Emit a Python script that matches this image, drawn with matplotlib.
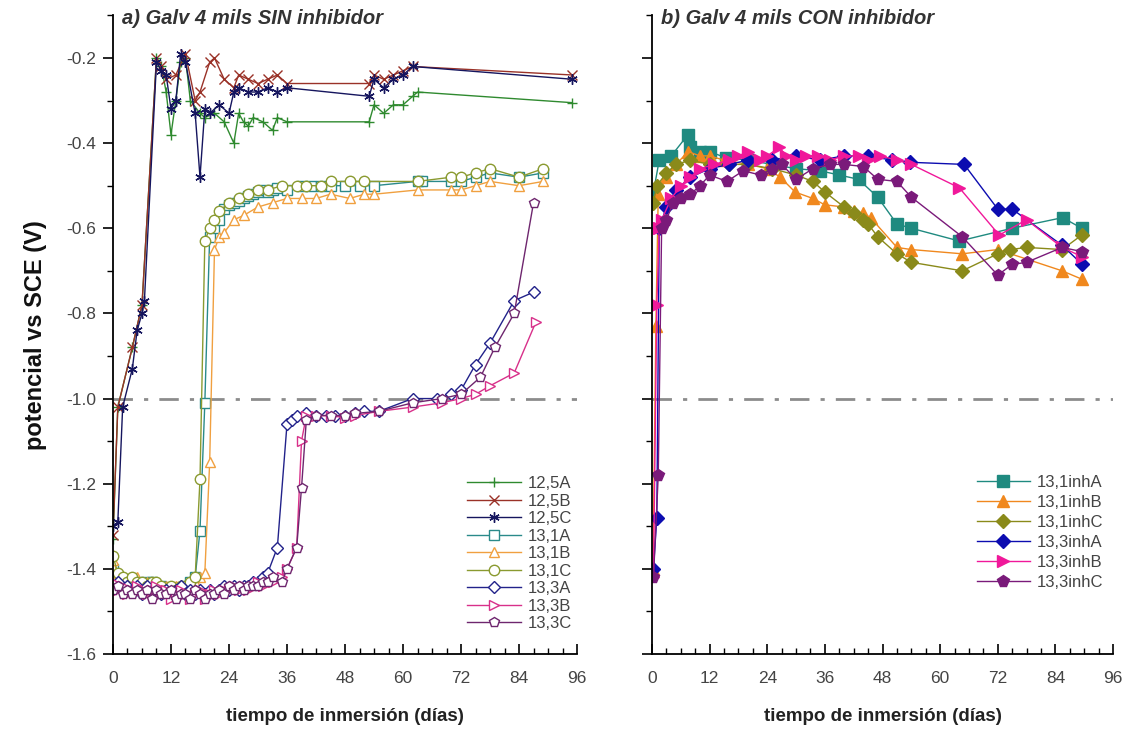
import numpy as np
import matplotlib
matplotlib.use('Agg')
import matplotlib.pyplot as plt
from matplotlib.ticker import MultipleLocator

plt.rcParams['font.family'] = ['Liberation Sans', 'DejaVu Sans']

# ---- panel a) sin inhibidor ----
d_125A = [0, 1, 4, 6, 9, 10, 11, 12, 13, 14, 15, 16, 18, 19, 21, 23, 25, 26, 27, 28, 29, 31, 33, 34, 36,
          53, 54, 56, 58, 60, 62, 63, 95]
v_125A = [-1.33, -1.02, -0.88, -0.78, -0.20, -0.22, -0.28, -0.38, -0.30, -0.21, -0.20, -0.30, -0.33, -0.34,
          -0.33, -0.35, -0.40, -0.33, -0.35, -0.36, -0.34, -0.35, -0.37, -0.34, -0.35,
          -0.35, -0.31, -0.33, -0.31, -0.31, -0.29, -0.28, -0.305]

d_125B = [0, 1, 4, 6, 9, 10, 11, 13, 15, 17, 18, 20, 21, 23, 25, 26, 28, 30, 32, 34, 36,
          53, 54, 56, 58, 60, 62, 95]
v_125B = [-1.32, -1.02, -0.88, -0.78, -0.20, -0.22, -0.25, -0.24, -0.19, -0.30, -0.28, -0.21, -0.20,
          -0.25, -0.27, -0.24, -0.25, -0.26, -0.25, -0.24, -0.26,
          -0.26, -0.24, -0.25, -0.24, -0.23, -0.22, -0.24]

d_125C = [0, 1, 2, 4, 5, 6, 6.5, 9, 10, 11, 12, 13, 14, 15, 17, 18, 19, 20, 22, 24, 25, 26, 28, 30, 32, 34, 36,
          53, 54, 56, 58, 60, 62, 95]
v_125C = [-1.30, -1.29, -1.02, -0.93, -0.84, -0.80, -0.77, -0.21, -0.23, -0.24, -0.32, -0.30, -0.19, -0.21,
          -0.33, -0.48, -0.32, -0.33, -0.31, -0.33, -0.28, -0.27, -0.28, -0.28, -0.27, -0.28, -0.27,
          -0.29, -0.25, -0.27, -0.25, -0.24, -0.22, -0.25]

d_131A = [0, 1, 2, 3, 4, 5, 6, 7, 8, 9, 10, 11, 12, 13, 14, 15, 16, 17, 18, 19, 20, 21, 22, 23, 24, 25, 26,
          27, 28, 29, 30, 31, 32, 33, 34, 36, 39, 41, 43, 45, 48, 51, 54, 63, 64, 70, 72, 75, 78, 84, 89]
v_131A = [-1.40, -1.42, -1.43, -1.43, -1.44, -1.43, -1.44, -1.43, -1.43, -1.44, -1.44, -1.45, -1.45, -1.45,
          -1.45, -1.44, -1.43, -1.42, -1.31, -1.01, -0.62, -0.60, -0.58, -0.555, -0.545, -0.54, -0.535,
          -0.53, -0.525, -0.52, -0.515, -0.51, -0.515, -0.51, -0.505, -0.51, -0.50, -0.50, -0.50, -0.50,
          -0.50, -0.50, -0.50, -0.49, -0.49, -0.49, -0.49, -0.48, -0.47, -0.48, -0.47]

d_131B = [0, 1, 2, 3, 4, 5, 6, 7, 8, 9, 10, 11, 12, 13, 14, 15, 16, 17, 18, 19, 20, 21, 22, 23, 25, 27,
          30, 33, 36, 39, 42, 45, 49, 52, 54, 63, 70, 72, 75, 78, 84, 89]
v_131B = [-1.38, -1.41, -1.42, -1.43, -1.43, -1.42, -1.43, -1.43, -1.44, -1.43, -1.44, -1.44, -1.45,
          -1.44, -1.45, -1.44, -1.44, -1.43, -1.42, -1.41, -1.15, -0.65, -0.62, -0.61, -0.58, -0.57,
          -0.55, -0.54, -0.53, -0.53, -0.53, -0.52, -0.53, -0.52, -0.52, -0.51, -0.51, -0.51, -0.50,
          -0.49, -0.50, -0.49]

d_131C = [0, 1, 2, 3, 4, 5, 6, 7, 8, 9, 10, 11, 12, 13, 14, 15, 16, 17, 18, 19, 20, 21, 22, 24, 26, 28,
          30, 32, 35, 38, 40, 43, 45, 49, 52, 63, 70, 72, 75, 78, 84, 89]
v_131C = [-1.37, -1.41, -1.42, -1.43, -1.42, -1.43, -1.43, -1.44, -1.43, -1.43, -1.44, -1.45, -1.44,
          -1.45, -1.44, -1.44, -1.43, -1.42, -1.19, -0.63, -0.60, -0.58, -0.56, -0.54, -0.53, -0.52,
          -0.51, -0.51, -0.50, -0.50, -0.50, -0.50, -0.49, -0.49, -0.49, -0.49, -0.48, -0.48, -0.47,
          -0.46, -0.48, -0.46]

d_133A = [0, 1, 2, 3, 4, 5, 6, 7, 8, 9, 10, 11, 12, 13, 14, 15, 16, 17, 18, 19, 20, 21, 22, 23, 24, 25,
          26, 27, 28, 29, 30, 31, 32, 34, 36, 37, 38, 40, 42, 44, 46, 48, 50, 52, 55, 62, 67, 70, 72, 75,
          78, 83, 87]
v_133A = [-1.44, -1.43, -1.45, -1.44, -1.45, -1.44, -1.46, -1.44, -1.45, -1.45, -1.46, -1.45, -1.46,
          -1.45, -1.44, -1.46, -1.45, -1.46, -1.45, -1.46, -1.45, -1.46, -1.45, -1.44, -1.45, -1.44,
          -1.45, -1.44, -1.44, -1.43, -1.43, -1.42, -1.41, -1.35, -1.06, -1.05, -1.04, -1.035, -1.04,
          -1.04, -1.04, -1.04, -1.035, -1.03, -1.03, -1.00, -1.00, -0.99, -0.98, -0.92, -0.87, -0.77, -0.75]

d_133B = [0, 1, 2, 3, 4, 5, 6, 7, 8, 9, 10, 11, 12, 13, 14, 15, 16, 17, 18, 19, 20, 21, 22, 23, 24, 25,
          26, 27, 28, 29, 30, 31, 32, 33, 35, 36, 38, 39, 40, 42, 45, 48, 50, 55, 62, 68, 72, 75, 78, 83, 87.5]
v_133B = [-1.43, -1.45, -1.44, -1.46, -1.45, -1.44, -1.45, -1.46, -1.45, -1.44, -1.46, -1.45, -1.47,
          -1.46, -1.45, -1.46, -1.47, -1.46, -1.45, -1.47, -1.46, -1.45, -1.46, -1.45, -1.45, -1.44,
          -1.45, -1.44, -1.45, -1.44, -1.43, -1.44, -1.43, -1.43, -1.42, -1.40, -1.35, -1.10, -1.04,
          -1.04, -1.04, -1.045, -1.04, -1.03, -1.02, -1.01, -1.00, -0.99, -0.97, -0.94, -0.82]

d_133C = [0, 1, 2, 3, 4, 5, 6, 7, 8, 9, 10, 11, 12, 13, 14, 15, 16, 17, 18, 19, 20, 21, 22, 23, 24, 25,
          26, 27, 28, 29, 30, 31, 32, 33, 35, 36, 38, 39, 40, 42, 45, 48, 50, 55, 62, 68, 72, 76, 79, 83, 87]
v_133C = [-1.45, -1.44, -1.46, -1.45, -1.46, -1.45, -1.46, -1.45, -1.47, -1.45, -1.46, -1.46, -1.45,
          -1.47, -1.46, -1.46, -1.47, -1.45, -1.46, -1.47, -1.46, -1.46, -1.45, -1.46, -1.44, -1.45,
          -1.44, -1.45, -1.44, -1.44, -1.44, -1.43, -1.43, -1.42, -1.43, -1.40, -1.35, -1.21, -1.05,
          -1.04, -1.04, -1.04, -1.035, -1.03, -1.01, -1.00, -0.99, -0.95, -0.88, -0.80, -0.54]

# ---- panel b) con inhibidor ----
d_i131A = [0.3, 1.5, 4, 7.5, 8, 10, 12, 15.5, 20, 25, 30, 35, 39, 43, 47, 51, 54, 64, 75, 85.5, 89.5]
v_i131A = [-0.515, -0.44, -0.43, -0.38, -0.41, -0.42, -0.42, -0.435, -0.44, -0.45, -0.46, -0.465, -0.475,
           -0.485, -0.527, -0.59, -0.60, -0.63, -0.60, -0.575, -0.60]

d_i131B = [0.2, 0.8, 1.3, 3, 5, 7.5, 10, 12, 15, 20, 24, 26.7, 29.8, 33.5, 36, 40, 42, 44, 45.5, 51, 54,
           64.6, 72, 85.4, 89.6]
v_i131B = [-1.40, -0.83, -0.52, -0.48, -0.45, -0.42, -0.43, -0.43, -0.44, -0.45, -0.46, -0.48, -0.515,
           -0.53, -0.545, -0.55, -0.56, -0.565, -0.575, -0.645, -0.65, -0.66, -0.65, -0.70, -0.72]

d_i131C = [0.3, 1, 3, 5, 8, 12, 16, 20, 25, 30, 33.5, 36, 40, 42, 44, 45, 47, 51, 54, 64.6, 72, 74.6, 78,
           85.4, 89.6]
v_i131C = [-0.54, -0.50, -0.47, -0.45, -0.44, -0.45, -0.45, -0.45, -0.46, -0.475, -0.49, -0.515, -0.55,
           -0.565, -0.58, -0.59, -0.62, -0.66, -0.68, -0.70, -0.66, -0.65, -0.645, -0.65, -0.615]

d_i133A = [0.3, 1, 1.5, 3, 5, 8, 12, 16, 20, 25, 30, 35, 40, 45, 50, 53.7, 65, 72, 75, 85.4, 89.6]
v_i133A = [-1.40, -1.28, -0.60, -0.55, -0.51, -0.48, -0.46, -0.45, -0.44, -0.44, -0.43, -0.44, -0.43,
           -0.43, -0.44, -0.445, -0.45, -0.555, -0.555, -0.64, -0.685]

d_i133B = [0.3, 1, 1.5, 2, 4, 6, 8, 10, 13, 16, 18, 20, 22.5, 24, 26.5, 28, 30, 32, 34.6, 37, 40, 43, 45,
           47.5, 51, 54, 64, 72.3, 78, 85.4, 89.6]
v_i133B = [-1.42, -0.78, -0.60, -0.58, -0.53, -0.50, -0.48, -0.46, -0.45, -0.44, -0.43, -0.42, -0.44,
           -0.43, -0.41, -0.43, -0.44, -0.43, -0.43, -0.44, -0.43, -0.43, -0.44, -0.43, -0.44, -0.45,
           -0.505, -0.616, -0.58, -0.645, -0.667]

d_i133C = [0.3, 1.3, 2, 3, 4.4, 6, 8, 10, 12, 15.6, 19, 22.6, 25, 27, 30, 33.5, 37, 40, 44, 47, 51, 54,
           64.6, 72, 75, 78, 85.4, 89.6]
v_i133C = [-1.42, -1.18, -0.60, -0.58, -0.54, -0.53, -0.52, -0.50, -0.475, -0.49, -0.465, -0.475, -0.46,
           -0.45, -0.485, -0.46, -0.45, -0.45, -0.455, -0.485, -0.49, -0.527, -0.62, -0.71, -0.685,
           -0.68, -0.645, -0.655]

series_a = [
    ('12,5A', d_125A, v_125A, '#2f8a2f', '+', False),
    ('12,5B', d_125B, v_125B, '#9a3228', 'x', False),
    ('12,5C', d_125C, v_125C, '#15155e', (6, 2, 0), False),
    ('13,1A', d_131A, v_131A, '#2a8a8a', 's', True),
    ('13,1B', d_131B, v_131B, '#f0a040', '^', True),
    ('13,1C', d_131C, v_131C, '#8a9a30', 'o', True),
    ('13,3A', d_133A, v_133A, '#22228a', 'D', True),
    ('13,3B', d_133B, v_133B, '#d8308a', '>', True),
    ('13,3C', d_133C, v_133C, '#6e266e', 'p', True),
]
series_b = [
    ('13,1inhA', d_i131A, v_i131A, '#1f8a80', 's'),
    ('13,1inhB', d_i131B, v_i131B, '#f0881e', '^'),
    ('13,1inhC', d_i131C, v_i131C, '#8a8a1a', 'D'),
    ('13,3inhA', d_i133A, v_i133A, '#0c0cb0', 'D'),
    ('13,3inhB', d_i133B, v_i133B, '#f0189a', '>'),
    ('13,3inhC', d_i133C, v_i133C, '#7a1a7a', 'p'),
]

fig = plt.figure(figsize=(11.31, 7.40), dpi=100)
ax1 = fig.add_axes([0.0999, 0.1162, 0.4103, 0.863])
ax2 = fig.add_axes([0.5765, 0.1162, 0.4076, 0.863])

for name, d, v, c, m, hollow in series_a:
    ax1.plot(d, v, color=c, marker=m, markersize=7.5 if m != 'D' else 6.5, lw=1,
             markerfacecolor='white' if hollow else c, markeredgecolor=c, markeredgewidth=1, label=name)

for name, d, v, c, m in series_b:
    ax2.plot(d, v, color=c, marker=m, markersize=8.5 if m != 'D' else 7.5, lw=1,
             markerfacecolor=c, markeredgecolor=c, label=name)

for ax in (ax1, ax2):
    ax.axhline(-1.0, color='#8c8c8c', lw=2, ls=(0, (7, 4, 1.5, 4)), zorder=0)
    ax.set_xlim(0, 96)
    ax.set_ylim(-1.6, -0.1)
    ax.spines['top'].set_visible(False)
    ax.spines['right'].set_visible(False)
    ax.spines['left'].set_linewidth(1.3)
    ax.spines['bottom'].set_linewidth(1.3)
    ax.xaxis.set_major_locator(MultipleLocator(12))
    ax.xaxis.set_minor_locator(MultipleLocator(3))
    ax.yaxis.set_major_locator(MultipleLocator(0.2))
    ax.yaxis.set_minor_locator(MultipleLocator(0.1))
    ax.tick_params(axis='x', which='major', direction='in', length=7, width=1.2,
                   labelsize=12.5, labelcolor='#444444', pad=12)
    ax.tick_params(axis='x', which='minor', direction='in', length=4, width=1)
    ax.tick_params(axis='y', which='major', direction='out', length=7, width=1.2,
                   labelsize=12.5, labelcolor='#444444', pad=5)
    ax.tick_params(axis='y', which='minor', direction='out', length=4, width=1)
    ax.set_xlabel('tiempo de inmersión (días)', fontsize=13.5, fontweight='bold', color='#222222', labelpad=16)

ax1.set_yticks(np.arange(-1.6, -0.19, 0.2))
ax1.set_yticklabels(['-1.6', '-1.4', '-1.2', '-1.0', '-0.8', '-0.6', '-0.4', '-0.2'])
ax2.set_yticks(np.arange(-1.6, -0.19, 0.2))
ax2.tick_params(axis='y', labelleft=False)
ax1.set_ylabel('potencial vs SCE (V)', fontsize=17, fontweight='bold', color='#111111', labelpad=14)

ax1.text(0.02, 0.995, 'a) Galv 4 mils SIN inhibidor', transform=ax1.transAxes, fontsize=14.5,
         style='italic', fontweight='bold', color='#333333', va='center')
ax2.text(0.02, 0.995, 'b) Galv 4 mils CON inhibidor', transform=ax2.transAxes, fontsize=14.5,
         style='italic', fontweight='bold', color='#333333', va='center')

leg1 = ax1.legend(loc='lower right', bbox_to_anchor=(1.01, 0.02), frameon=False, fontsize=12,
                  handlelength=3.2, labelspacing=0.15, handletextpad=0.4, borderaxespad=0.2)
for t in leg1.get_texts():
    t.set_color('#444444')
leg2 = ax2.legend(loc='lower right', bbox_to_anchor=(1.0, 0.085), frameon=False, fontsize=12,
                  handlelength=3.2, labelspacing=0.3, handletextpad=0.4, borderaxespad=0.2)
for t in leg2.get_texts():
    t.set_color('#444444')

fig.savefig('out.png', dpi=100)
